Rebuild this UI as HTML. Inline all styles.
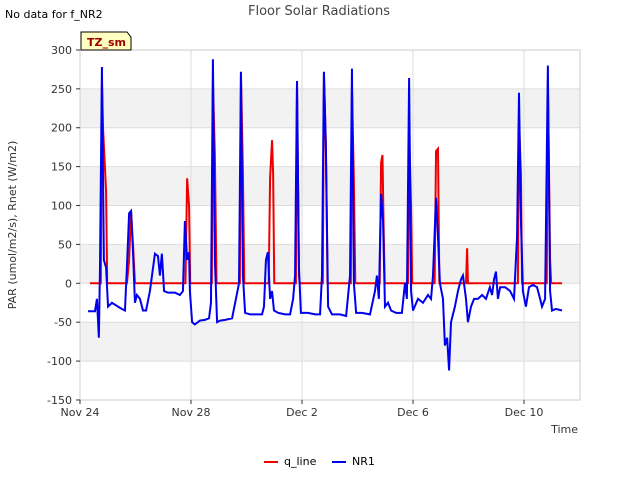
<!DOCTYPE html>
<html><head><meta charset="utf-8"><style>
body{margin:0;background:#fff;font-family:"Liberation Sans","DejaVu Sans",sans-serif;}
svg text{font-family:"DejaVu Sans","Liberation Sans",sans-serif;}
</style></head><body>
<svg id="chart" width="640" height="480" xmlns="http://www.w3.org/2000/svg">
<rect width="640" height="480" fill="#fff"/>
<text x="5" y="18" font-size="11">No data for f_NR2</text>
<text x="319" y="15" font-size="13" fill="#444" text-anchor="middle">Floor Solar Radiations</text>
<g id="bands"></g><g id="grid"></g>
<rect x="80" y="50" width="500" height="350" fill="none" stroke="#ccc"/>
<g id="axes"></g>
<g id="series"></g>
<g>
<path d="M81,32 h46 l4,5 v13 h-50 z" fill="#ffffc0" stroke="#000"/>
<text x="87" y="46" font-size="11" font-weight="bold" fill="#a00000">TZ_sm</text>
</g>
<text x="16" y="225" font-size="11" fill="#333" text-anchor="middle" transform="rotate(-90 16 225)">PAR (umol/m2/s), Rnet (W/m2)</text>
<text x="578" y="433" font-size="11" fill="#333" text-anchor="end">Time</text>
<g>
<line x1="264" y1="462" x2="278" y2="462" stroke="#e00" stroke-width="2"/>
<text x="284" y="465" font-size="11">q_line</text>
<line x1="332" y1="462" x2="346" y2="462" stroke="#00e" stroke-width="2"/>
<text x="352" y="465" font-size="11">NR1</text>
</g>
</svg>
<script>
const yTicks=[-150,-100,-50,0,50,100,150,200,250,300];
const xTickDays=[0,4,8,12,16];
const xTickLabels=["Nov 24","Nov 28","Dec 2","Dec 6","Dec 10"];
const bandRanges=[[200,250],[100,150],[0,50],[-100,-50]];
const nr1Days=[0.29,0.54,0.61,0.68,0.72,0.79,0.86,0.94,1.01,1.15,1.37,1.51,1.62,1.69,1.77,1.84,1.91,1.98,2.05,2.16,2.27,2.38,2.52,2.70,2.81,2.88,2.95,3.03,3.17,3.42,3.60,3.71,3.78,3.86,3.93,3.96,4.04,4.14,4.32,4.50,4.65,4.72,4.79,4.86,4.94,5.05,5.23,5.48,5.62,5.73,5.80,5.87,5.95,6.13,6.41,6.56,6.63,6.70,6.77,6.85,6.92,6.99,7.14,7.39,7.57,7.68,7.75,7.82,7.89,7.96,8.22,8.47,8.65,8.72,8.79,8.86,8.94,9.08,9.37,9.59,9.73,9.80,9.87,9.95,10.16,10.45,10.63,10.70,10.77,10.85,10.92,10.99,11.10,11.21,11.39,11.60,11.71,11.78,11.86,11.93,12.00,12.18,12.36,12.54,12.65,12.72,12.83,12.90,12.97,13.08,13.15,13.23,13.30,13.37,13.51,13.62,13.73,13.80,13.91,13.98,14.09,14.20,14.34,14.49,14.63,14.77,14.85,14.92,14.99,15.06,15.14,15.32,15.50,15.64,15.75,15.82,15.89,15.96,16.07,16.18,16.32,16.47,16.58,16.65,16.76,16.86,16.94,17.01,17.15,17.37];
const nr1Vals=[-36,-36,-20,-70,20,278,30,20,-30,-25,-30,-33,-35,20,90,93,40,-25,-15,-20,-35,-35,-10,38,35,10,38,-10,-12,-12,-15,-10,80,30,40,-10,-50,-53,-48,-47,-45,-25,288,30,-50,-48,-47,-45,-20,0,272,10,-38,-40,-40,-40,-30,30,40,-20,-10,-35,-38,-40,-40,-20,10,260,20,-38,-38,-40,-40,10,272,175,-30,-40,-40,-42,10,276,0,-38,-38,-40,-10,10,-20,115,80,-30,-25,-35,-38,-38,0,-20,264,-10,-35,-20,-25,-15,-20,10,110,60,0,-20,-80,-70,-112,-50,-30,-10,5,10,-20,-50,-30,-20,-20,-15,-20,-5,-15,5,15,-20,-5,-5,-10,-20,60,245,80,-10,-30,-5,-2,-5,-20,-30,-20,280,-10,-35,-33,-35];
const qDays=[0.36,0.75,0.79,0.83,0.94,0.98,1.69,1.77,1.84,1.91,1.98,3.80,3.86,3.93,3.97,4.75,4.79,4.86,4.92,5.76,5.80,5.87,5.92,6.80,6.85,6.92,6.96,7.0,7.78,7.82,7.89,7.92,8.75,8.79,8.86,8.92,9.76,9.80,9.87,9.92,10.80,10.85,10.90,10.94,10.98,11.82,11.86,11.93,11.97,12.78,12.83,12.90,12.95,13.91,13.95,13.98,15.78,15.82,15.89,15.93,16.82,16.86,16.94,16.98,17.37];
const qVals=[0,0,260,200,118,0,0,30,93,50,0,0,135,100,0,0,260,165,0,0,270,145,0,0,135,184,140,0,0,260,10,0,0,270,180,0,0,252,130,0,0,155,165,75,0,0,195,100,0,0,170,173,0,0,45,0,0,210,140,0,0,260,30,0,0];
const NS="http://www.w3.org/2000/svg";
const X=d=>80+d*27.75, Y=v=>283.3-v*0.7778;
function mk(tag,attrs,parent){const e=document.createElementNS(NS,tag);for(const k in attrs)e.setAttribute(k,attrs[k]);document.getElementById(parent).appendChild(e);return e;}
bandRanges.forEach(r=>{const e=mk('rect',{x:80,y:Y(r[1]),width:500,height:Y(r[0])-Y(r[1]),fill:'#f2f2f2'},'bands');

});
yTicks.forEach(t=>{const l=mk('line',{x1:80,x2:580,y1:Y(t),y2:Y(t),stroke:'#ddd'},'grid');


mk('line',{x1:76,x2:80,y1:Y(t),y2:Y(t),stroke:'#333'},'axes');
const tx=mk('text',{x:72,y:Y(t)+4,'font-size':11,'text-anchor':'end',fill:'#333'},'axes');tx.textContent=t;

});
xTickDays.forEach((d,i)=>{const l=mk('line',{x1:X(d),x2:X(d),y1:50,y2:400,stroke:'#ddd'},'grid');


mk('line',{x1:X(d),x2:X(d),y1:400,y2:404,stroke:'#333'},'axes');
const tx=mk('text',{x:X(d),y:416,'font-size':11,'text-anchor':'middle',fill:'#333'},'axes');tx.textContent=xTickLabels[i];

});
const qp=mk('polyline',{points:qDays.map((d,i)=>X(d)+','+Y(qVals[i])).join(' '),fill:'none',stroke:'#e00','stroke-width':2},'series');


const np=mk('polyline',{points:nr1Days.map((d,i)=>X(d)+','+Y(nr1Vals[i])).join(' '),fill:'none',stroke:'#00e','stroke-width':2},'series');


</script>
</body></html>
